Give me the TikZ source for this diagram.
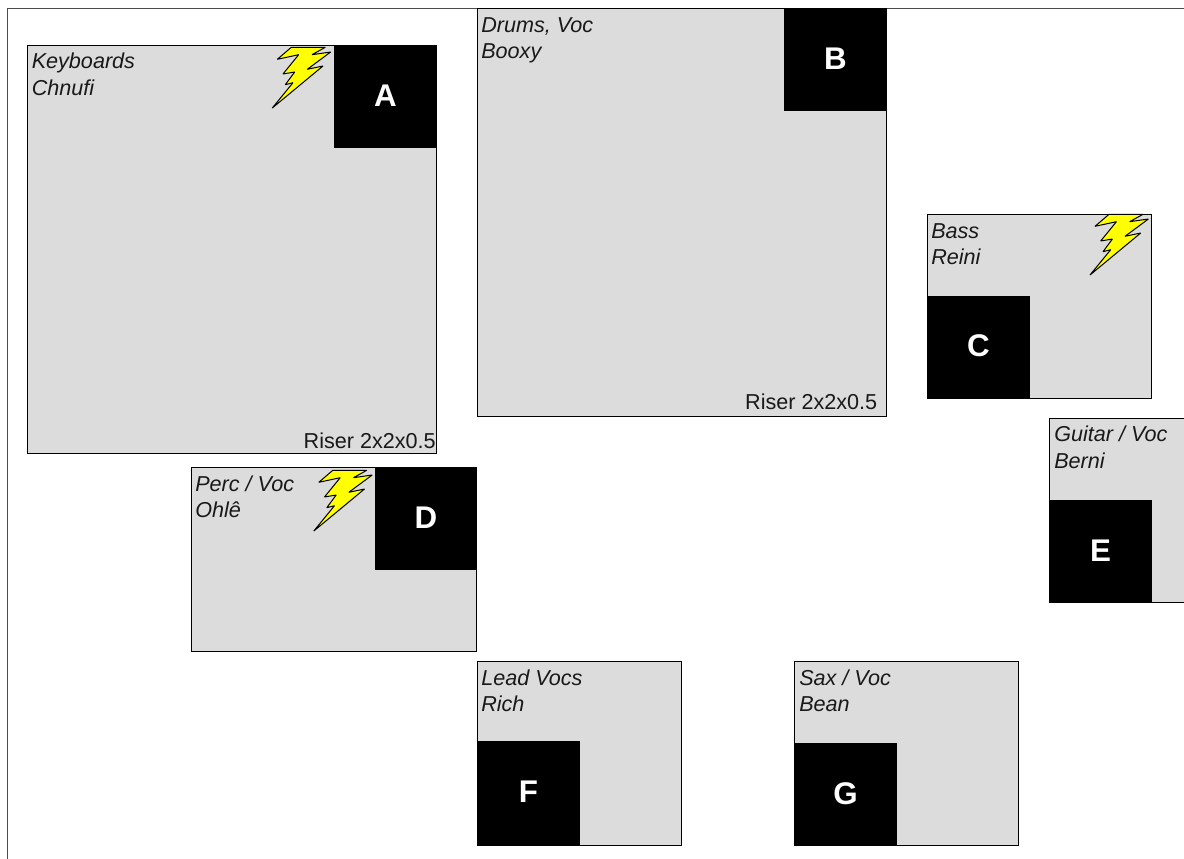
\documentclass[tikz,border=0pt]{standalone}
\usepackage{fontspec}
\setmainfont{Liberation Sans}
\definecolor{zonegray}{RGB}{220,220,220}
\definecolor{boltyellow}{RGB}{255,255,0}
\tikzset{x=0.75pt,y=-0.75pt,
  zone/.style={draw=black,fill=zonegray,line width=0.75pt},
  amp/.style={fill=black,draw=none},
  amplabel/.style={text=white,font=\fontsize{23.5}{28}\selectfont\bfseries,inner sep=0pt},
  who/.style={anchor=base west,inner sep=0pt,font=\fontsize{16.2}{20}\selectfont\itshape,text=black!90},
  riser/.style={anchor=base east,inner sep=0pt,font=\fontsize{16.2}{20}\selectfont,text=black!90},
  bolt/.pic={\draw[fill=boltyellow,draw=black,line width=0.75pt,line join=miter,miter limit=2]
    (31.3,12.3)--(65.3,12.3)--(52,19.7)--(70.7,17)--(47.3,34.3)--(63,31)--(12.3,73)--(33,47.7)--(25.3,49.7)--(34.7,37)--(23,39)--(38.7,19.7)--(17.3,24.3)--cycle;},
}
\begin{document}
\begin{tikzpicture}
\useasboundingbox (0,0) rectangle (1184,859);
\draw[black!70,line width=0.75pt] (7.2,859)--(7.2,8.7)--(1184,8.7);
% zones
\draw[zone] (27.3,45.3) rectangle (436.6,453.8);
\draw[zone] (477.3,8.3) rectangle (886.6,416.8);
\draw[zone] (927.3,214.3) rectangle (1151.6,398.6);
\draw[zone] (1049.3,418.3) rectangle (1190,602.6);
\draw[zone] (191.3,467.3) rectangle (476.9,651.8);
\draw[zone] (477.3,661.3) rectangle (681.6,845.8);
\draw[zone] (794.3,661.3) rectangle (1018.6,845.8);
% amps
\fill[amp] (334,45) rectangle (437,148);
\fill[amp] (784,8) rectangle (887,111);
\fill[amp] (927,296) rectangle (1030,399);
\fill[amp] (1049,500) rectangle (1152,603);
\fill[amp] (375,467) rectangle (477.3,570);
\fill[amp] (477,741) rectangle (580,844.5);
\fill[amp] (794,743) rectangle (897,846);
% letters
\node[amplabel] (lA) at (385.5,96) {A};
\node[amplabel] (lB) at (835.5,59) {B};
\node[amplabel] (lC) at (978.5,346) {C};
\node[amplabel] (lD) at (426,517.5) {D};
\node[amplabel] (lE) at (1100.5,551) {E};
\node[amplabel] (lF) at (528.5,791.5) {F};
\node[amplabel] (lG) at (845.5,793.5) {G};
% names
\node[who] (t1) at (31.5,68.5) {Keyboards};
\node[who] (t2) at (31.5,95.5) {Chnufi};
\node[who] (t3) at (481,32.5) {Drums, Voc};
\node[who] (t4) at (481,58.5) {Booxy};
\node[who] (t5) at (931,238.5) {Bass};
\node[who] (t6) at (931,264.5) {Reini};
\node[who] (t7) at (1054,441.5) {Guitar / Voc};
\node[who] (t8) at (1054,468.5) {Berni};
\node[who] (t9) at (195,491.5) {Perc / Voc};
\node[who] (t10) at (195,517.5) {Ohlê};
\node[who] (t11) at (481,685.5) {Lead Vocs};
\node[who] (t12) at (481,711.5) {Rich};
\node[who] (t13) at (799,685.5) {Sax / Voc};
\node[who] (t14) at (799,711.5) {Bean};
\node[riser] (r1) at (436,448.5) {Riser 2x2x0.5};
\node[riser] (r2) at (877.5,409.5) {Riser 2x2x0.5};
% bolts
\pic at (260,35) {bolt};
\pic at (1077.7,202) {bolt};
\pic at (301.5,458) {bolt};
\end{tikzpicture}
\end{document}
